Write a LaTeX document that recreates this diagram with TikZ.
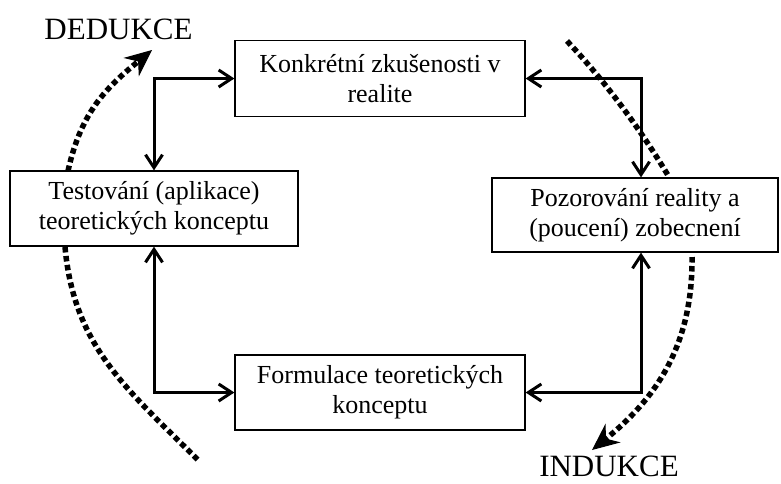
\documentclass[tikz,border=0pt]{standalone}
\usepackage{fontspec}
\setmainfont{Liberation Serif}
\usetikzlibrary{arrows.meta}
\begin{document}
\begin{tikzpicture}[x=1pt,y=-1pt,
  box/.style={draw,line width=1.2pt,minimum width=290pt,minimum height=76pt,inner sep=0pt,align=center,font=\fontsize{26}{30}\selectfont},
  conn/.style={line width=3pt,{Straight Barb[length=13pt,width=17pt]}-{Straight Barb[length=13pt,width=17pt]}},
  dots/.style={line width=5.5pt,dash pattern=on 5.5pt off 3.5pt},
  dtip/.style={-{Stealth[length=27pt,width=24pt,inset=9pt,line width=1pt]}},
  big/.style={font=\fontsize{31}{36}\selectfont,inner sep=0pt}]
\useasboundingbox (0,0) rectangle (781,483);

\node[box] (T) at (380,78.5) {Konkrétní zkušenosti v\\realite};
\node[box,minimum width=288pt,minimum height=75pt] (L) at (154,208.5) {Testování (aplikace)\\teoretických konceptu};
\node[box,minimum width=286pt,minimum height=74pt] (R) at (635,215) {Pozorování reality a\\(poucení) zobecnení};
\node[box,minimum height=75pt] (B) at (380,392.5) {Formulace teoretických\\konceptu};

\node[big,anchor=base] (ded) at (118.5,39) {DEDUKCE};
\node[big,anchor=base] (ind) at (609,476) {INDUKCE};

\draw[conn] (L.north) |- (T.west);
\draw[conn] (T.east) -| ([xshift=6pt]R.north);
\draw[conn] ([xshift=6pt]R.south) |- (B.east);
\draw[conn] (B.west) -| (L.south);

\coordinate (d1s) at (68,171);
\coordinate (d1e) at (152,50);
\coordinate (d2s) at (65,247);
\coordinate (d2e) at (198,460);
\coordinate (d3s) at (567,41);
\coordinate (d3e) at (669,177);
\coordinate (d4s) at (692,257);
\coordinate (d4e) at (592,450);

\draw[dots,dtip] (d1s) .. controls (81,112) and (106,88) .. (d1e);
\draw[dots] (d2s) .. controls (74,347) and (127,389) .. (d2e);
\draw[dots] (d3s) .. controls (605,81) and (641,130) .. (d3e);
\draw[dots,dtip] (d4s) .. controls (693,347) and (654,400) .. (d4e);
\end{tikzpicture}
\end{document}
